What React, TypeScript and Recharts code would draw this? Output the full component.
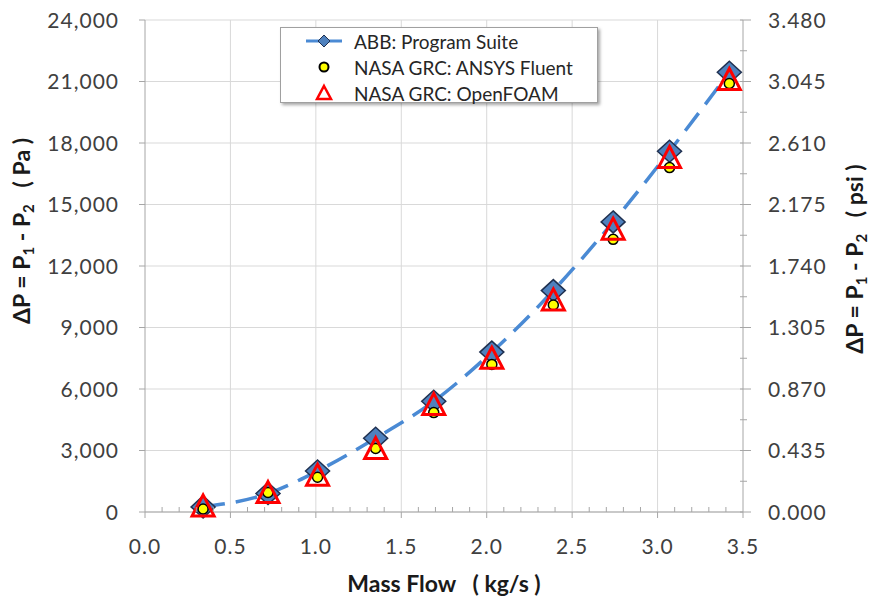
import React from 'react';
import { ComposedChart, Line, XAxis, YAxis, CartesianGrid, Label, ReferenceLine } from 'recharts';

// mass flow (kg/s) and pressure drop (Pa)
const massFlow = [0.34, 0.72, 1.01, 1.35, 1.69, 2.03, 2.39, 2.74, 3.07, 3.42];
const abbPa = [250, 900, 2000, 3600, 5400, 7800, 10800, 14150, 17600, 21450];
const fluentPa = [150, 950, 1700, 3100, 4850, 7200, 10100, 13300, 16800, 20900];
const openFoamPa = [200, 850, 1700, 3000, 5150, 7400, 10250, 13700, 17200, 21000];

const xMajorTicks = [0, 0.5, 1, 1.5, 2, 2.5, 3, 3.5];
const xMinorTicks = [
  0.1, 0.2, 0.3, 0.4, 0.6, 0.7, 0.8, 0.9, 1.1, 1.2, 1.3, 1.4, 1.6, 1.7, 1.8, 1.9,
  2.1, 2.2, 2.3, 2.4, 2.6, 2.7, 2.8, 2.9, 3.1, 3.2, 3.3, 3.4,
];
const paTicks = [0, 3000, 6000, 9000, 12000, 15000, 18000, 21000, 24000];
const psiTicks = [0, 0.435, 0.87, 1.305, 1.74, 2.175, 2.61, 3.045, 3.48];
const psiMinorTicks = [0.2175, 0.6525, 1.0875, 1.5225, 1.9575, 2.3925, 2.8275, 3.2625];

const rows = massFlow.map((x, i) => ({ x, abb: abbPa[i], fluent: fluentPa[i], openfoam: openFoamPa[i] }));

const FONT = 'Lato, "Open Sans", sans-serif';
const TICK_COLOR = '#404040';
const AXIS_COLOR = '#a6a6a6';
const GRID_COLOR = '#d9d9d9';
const LINE_BLUE = '#4a8ad4';

const X_TICK_SIZE = 6;
const X_TICK_MARGIN = 20;
const L_TICK_SIZE = 6;
const L_TICK_MARGIN = 20;
const R_TICK_SIZE = 8;
const R_TICK_MARGIN = 17;

const tickText = { fontFamily: FONT, fontSize: 21, fill: TICK_COLOR, letterSpacing: 1 };

const isIn = (list: number[], v: number) => list.some((t) => Math.abs(t - v) < 1e-6);

function XTick(props: any) {
  const { x, y, payload } = props;
  const v = payload.value;
  const axisY = y - X_TICK_SIZE - X_TICK_MARGIN;
  if (!isIn(xMajorTicks, v)) {
    return <line x1={x} x2={x} y1={axisY} y2={axisY - 5} stroke={AXIS_COLOR} />;
  }
  return (
    <g>
      <line x1={x} x2={x} y1={axisY} y2={axisY + X_TICK_SIZE} stroke={AXIS_COLOR} />
      <text x={x} y={y} dy="0.75em" textAnchor="middle" {...tickText}>
        {v.toFixed(1)}
      </text>
    </g>
  );
}

function LeftTick(props: any) {
  const { x, y, payload } = props;
  const axisX = x + L_TICK_SIZE + L_TICK_MARGIN;
  return (
    <g>
      <line x1={axisX - L_TICK_SIZE} x2={axisX} y1={y} y2={y} stroke={AXIS_COLOR} />
      <text x={x} y={y} dy="0.36em" textAnchor="end" {...tickText}>
        {payload.value.toLocaleString('en-US')}
      </text>
    </g>
  );
}

function RightTick(props: any) {
  const { x, y, payload } = props;
  const v = payload.value;
  const axisX = x - R_TICK_SIZE - R_TICK_MARGIN;
  if (!isIn(psiTicks, v)) {
    return <line x1={axisX - 3} x2={axisX + 4} y1={y} y2={y} stroke={AXIS_COLOR} />;
  }
  return (
    <g>
      <line x1={axisX - 3} x2={axisX + R_TICK_SIZE} y1={y} y2={y} stroke={AXIS_COLOR} />
      <text x={x} y={y} dy="0.36em" textAnchor="start" {...tickText}>
        {v.toFixed(3)}
      </text>
    </g>
  );
}

function Diamond({ cx, cy }: any) {
  if (cx == null || cy == null) return null;
  return (
    <polygon
      points={`${cx},${cy - 11} ${cx + 12},${cy} ${cx},${cy + 11} ${cx - 12},${cy}`}
      fill="#4f81bd"
      stroke="#1f3050"
      strokeWidth={1.5}
    />
  );
}

function YellowDot({ cx, cy }: any) {
  if (cx == null || cy == null) return null;
  return <circle cx={cx} cy={cy} r={5} fill="#ffff00" stroke="#000" strokeWidth={1.5} />;
}

function RedTriangle({ cx, cy }: any) {
  if (cx == null || cy == null) return null;
  return (
    <polygon
      points={`${cx},${cy - 13} ${cx + 11},${cy + 8} ${cx - 11},${cy + 8}`}
      fill="none"
      stroke="#ff0000"
      strokeWidth={3}
      strokeLinejoin="miter"
    />
  );
}

// axis title "ΔP = P1 - P2 ( unit )" with subscripts, rotated
function PressureTitle({ cx, cy, unit }: { cx: number; cy: number; unit: string }) {
  return (
    <text
      x={cx}
      y={cy}
      transform={`rotate(-90, ${cx}, ${cy})`}
      textAnchor="middle"
      dominantBaseline="middle"
      fontFamily={FONT}
      fontWeight="bold"
      fontSize={23}
      fill="#1a1a1a"
      style={{ whiteSpace: 'pre' }}
    >
      ΔP = P<tspan dy={6} fontSize={15}>1</tspan>
      <tspan dy={-6}> - P</tspan>
      <tspan dy={6} fontSize={15}>2</tspan>
      <tspan dy={-6}>{'   ( ' + unit + ' )'}</tspan>
    </text>
  );
}

function LegendBox() {
  const row = { display: 'flex', alignItems: 'center', height: 26 } as const;
  const icon = { width: 60, display: 'flex', justifyContent: 'center' } as const;
  return (
    <div
      style={{
        position: 'absolute',
        left: 280,
        top: 27,
        width: 318,
        height: 76,
        border: '1px solid #a0a0a0',
        boxShadow: '2px 2px 3px rgba(0,0,0,0.35)',
        background: '#fff',
        boxSizing: 'border-box',
        paddingLeft: 13,
        fontFamily: FONT,
        fontSize: 19,
        color: '#262626',
      }}
    >
      <div style={row}>
        <div style={icon}>
          <svg width={40} height={20}>
            <line x1={2} x2={38} y1={10} y2={10} stroke={LINE_BLUE} strokeWidth={3} />
            <polygon points="20,4 26,10 20,16 14,10" fill="#4f81bd" stroke="#1f3050" strokeWidth={1} />
          </svg>
        </div>
        <span>ABB: Program Suite</span>
      </div>
      <div style={row}>
        <div style={icon}>
          <svg width={20} height={20}>
            <circle cx={10} cy={10} r={4.5} fill="#ffff00" stroke="#000" strokeWidth={2} />
          </svg>
        </div>
        <span>NASA GRC: ANSYS Fluent</span>
      </div>
      <div style={row}>
        <div style={icon}>
          <svg width={20} height={20}>
            <polygon points="10,3 17,16 3,16" fill="none" stroke="#ff0000" strokeWidth={2.5} />
          </svg>
        </div>
        <span>NASA GRC: OpenFOAM</span>
      </div>
    </div>
  );
}

export default function App() {
  return (
    <div style={{ position: 'absolute', left: 0, top: 0, width: 870, height: 602, background: '#fff' }}>
      <ComposedChart width={870} height={602} data={rows} margin={{ top: 20, right: 0, bottom: 0, left: 0 }}>
        <CartesianGrid stroke={GRID_COLOR} vertical={false} yAxisId="pa" />
        <XAxis
          dataKey="x"
          type="number"
          domain={[0, 3.5]}
          ticks={[...xMajorTicks, ...xMinorTicks].sort((a, b) => a - b)}
          interval={0}
          height={90}
          tickSize={X_TICK_SIZE}
          tickMargin={X_TICK_MARGIN}
          tickLine={false}
          tick={<XTick />}
          stroke={AXIS_COLOR}
        >
          <Label
            content={({ viewBox }: any) => (
              <text
                x={viewBox.x + viewBox.width / 2}
                y={viewBox.y + 80}
                textAnchor="middle"
                fontFamily={FONT}
                fontWeight="bold"
                fontSize={23}
                fill="#1a1a1a"
                style={{ whiteSpace: 'pre' }}
              >
                {'Mass Flow   ( kg/s )'}
              </text>
            )}
          />
        </XAxis>
        <YAxis
          yAxisId="pa"
          orientation="left"
          type="number"
          domain={[0, 24000]}
          ticks={paTicks}
          interval={0}
          width={145}
          tickSize={L_TICK_SIZE}
          tickMargin={L_TICK_MARGIN}
          tickLine={false}
          tick={<LeftTick />}
          stroke={AXIS_COLOR}
        >
          <Label
            content={({ viewBox }: any) => (
              <PressureTitle cx={24} cy={viewBox.y + viewBox.height / 2 - 35} unit="Pa" />
            )}
          />
        </YAxis>
        <YAxis
          yAxisId="psi"
          orientation="right"
          type="number"
          domain={[0, 3.48]}
          allowDataOverflow
          ticks={[...psiTicks, ...psiMinorTicks].sort((a, b) => a - b)}
          interval={0}
          width={127}
          tickSize={R_TICK_SIZE}
          tickMargin={R_TICK_MARGIN}
          tickLine={false}
          tick={<RightTick />}
          stroke={AXIS_COLOR}
        >
          <Label
            content={({ viewBox }: any) => (
              <PressureTitle cx={viewBox.x + 114} cy={viewBox.y + viewBox.height / 2 - 7} unit="psi" />
            )}
          />
        </YAxis>
        {xMajorTicks.slice(1, -1).map((t) => (
          <ReferenceLine key={t} x={t} yAxisId="pa" stroke={GRID_COLOR} strokeWidth={1} ifOverflow="visible" />
        ))}
        <Line
          yAxisId="pa"
          type="monotone"
          dataKey="abb"
          stroke={LINE_BLUE}
          strokeWidth={3.5}
          strokeDasharray="22 11"
          dot={(p: any) => <Diamond key={`d-${p.index}`} {...p} />}
          activeDot={false}
          isAnimationActive={false}
        />
        <Line
          yAxisId="pa"
          dataKey="fluent"
          stroke="none"
          dot={(p: any) => <YellowDot key={`f-${p.index}`} {...p} />}
          activeDot={false}
          isAnimationActive={false}
        />
        <Line
          yAxisId="pa"
          dataKey="openfoam"
          stroke="none"
          dot={(p: any) => <RedTriangle key={`o-${p.index}`} {...p} />}
          activeDot={false}
          isAnimationActive={false}
        />
      </ComposedChart>
      <LegendBox />
    </div>
  );
}
